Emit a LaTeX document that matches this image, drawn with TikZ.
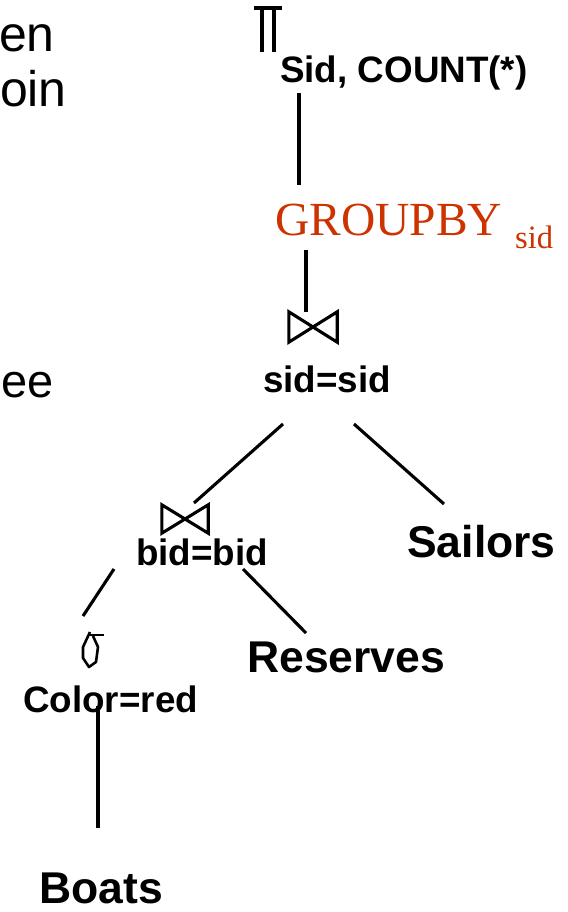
\documentclass[tikz,border=0pt]{standalone}
\usepackage{fontspec}
\setmainfont{Liberation Sans}
\newfontfamily\timesfont{Liberation Serif}
\definecolor{grpred}{RGB}{204,51,0}
\begin{document}
\begin{tikzpicture}[x=1pt,y=-1pt,
  conn/.style={line width=3.1pt},
  small/.style={font=\fontsize{36.8}{40}\selectfont\bfseries, inner sep=0pt, anchor=base west},
  rel/.style={font=\fontsize{44.5}{48}\selectfont\bfseries, inner sep=0pt, anchor=base west},
  side/.style={font=\fontsize{50}{54}\selectfont, inner sep=0pt, anchor=base east},
  joinbox/.style={inner sep=0pt, minimum width=48pt, minimum height=30pt},
]
\useasboundingbox (0,0) rectangle (567,912);

% text running in from the left margin
\node[side] (l1) at (55,52) {en};
\node[side] (l2) at (67,107) {oin};
\node[side, font=\fontsize{47}{52}\selectfont] (l3) at (54,397) {ee};

% projection
\draw[conn] (254,8) -- (282,8) (262,8) -- (262,52) (274,8) -- (274,52);
\node[small] (proj) at (280,83) {Sid, COUNT(*)};

% grouping
\node[font=\timesfont\fontsize{47.5}{50}\selectfont, text=grpred, inner sep=0pt, anchor=base west]
  (grp) at (275,235) {GROUPBY\kern13pt\raisebox{-13pt}{\fontsize{32.6}{34}\selectfont sid}};

% joins
\node[joinbox] (j1) at (313,327) {};
\draw[conn, line join=miter] (j1.north west) -- (j1.south west) -- (j1.north east) -- (j1.south east) -- cycle;
\node[small] (c1) at (263,392) {sid=sid};

\node[joinbox, minimum width=46pt, minimum height=28pt] (j2) at (185,519) {};
\draw[conn, line join=miter] (j2.north west) -- (j2.south west) -- (j2.north east) -- (j2.south east) -- cycle;
\node[small] (c2) at (136,565) {bid=bid};

% selection
\draw[line width=2.6pt, line join=round] (90,632) -- (83,647) -- (83,658) -- (89,667) -- (96,662) -- (98,647) -- (93,636);
\draw[line width=2.6pt] (88,635) -- (104,635);
\node[small] (c3) at (23,712) {Color=red};

% relations
\node[rel] (sailors) at (407,557) {Sailors};
\node[rel] (reserves) at (247,672) {Reserves};
\node[rel] (boats) at (39,903) {Boats};

% edge end points
\coordinate (a1) at (299,93);   \coordinate (b1) at (299,185);
\coordinate (a2) at (306,250);  \coordinate (b2) at (306,312);
\coordinate (a3) at (283,424);  \coordinate (b3) at (194,503);
\coordinate (a4) at (354,424);  \coordinate (b4) at (444,504);
\coordinate (a5) at (114,569);  \coordinate (b5) at (83,616);
\coordinate (a6) at (243,569);  \coordinate (b6) at (306,633);
\coordinate (a7) at (98,706);   \coordinate (b7) at (98,828);

\draw[conn] (a1) -- (b1);
\draw[conn] (a2) -- (b2);
\draw[conn] (a3) -- (b3);
\draw[conn] (a4) -- (b4);
\draw[conn] (a5) -- (b5);
\draw[conn] (a6) -- (b6);
\draw[conn] (a7) -- (b7);
\end{tikzpicture}
\end{document}
